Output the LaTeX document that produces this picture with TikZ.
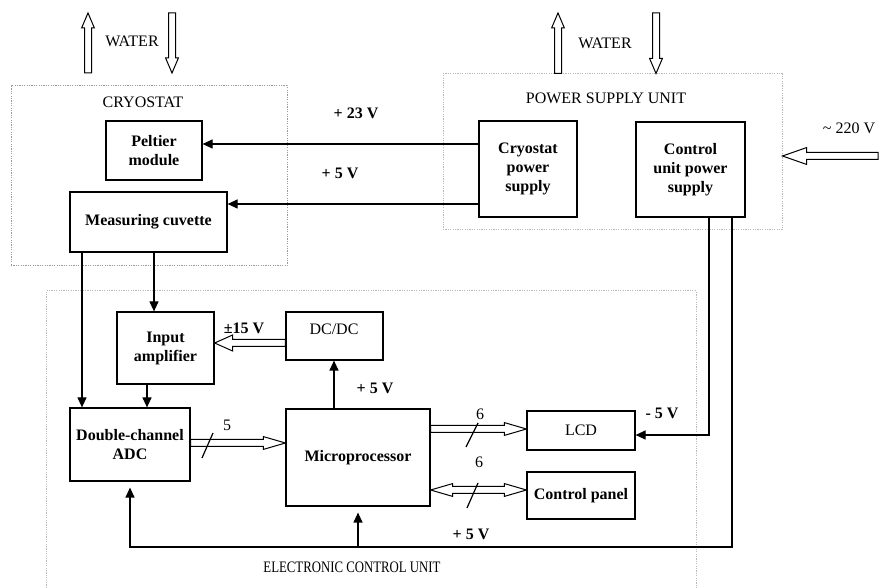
\documentclass[tikz,border=0pt]{standalone}
\usepackage{fontspec}
\setmainfont{Liberation Serif}
\usetikzlibrary{calc,arrows.meta}

\tikzset{
  box/.style={draw, line width=0.6pt, inner sep=0pt, align=center,
    font=\fontsize{8}{9.5}\selectfont\bfseries},
  lbl/.style={font=\fontsize{8}{9.5}\selectfont, inner sep=0pt},
  blbl/.style={font=\fontsize{8}{9.5}\selectfont\bfseries, inner sep=0pt},
  wire/.style={line width=0.6pt},
  arr/.style={wire, -{Triangle[length=5pt,width=4.5pt]}},
  hollowst/.style={line width=0.5pt, fill=white, line join=miter},
  dotbox/.style={draw=gray!80, line width=0.5pt, dash pattern=on 0.6pt off 0.6pt, inner sep=0pt},
  dotboxlight/.style={draw=gray!55, line width=0.5pt, dash pattern=on 0.6pt off 0.6pt, inner sep=0pt},
}

% hollow single arrow: #1 from, #2 to, #3 head length, #4 head half width
\newcommand\hollowarrow[4]{%
  \coordinate (hq) at ($(#2)!#3!(#1)$);
  \draw[hollowst] ($(#1)!1.75pt!90:(#2)$) -- ($(hq)!1.75pt!90:(#2)$) -- ($(hq)!#4!90:(#2)$)
    -- (#2) -- ($(hq)!#4!-90:(#2)$) -- ($(hq)!1.75pt!-90:(#2)$) -- ($(#1)!1.75pt!-90:(#2)$) -- cycle;}
% hollow double arrow
\newcommand\hollowdouble[4]{%
  \coordinate (hq) at ($(#2)!#3!(#1)$);
  \coordinate (hp) at ($(#1)!#3!(#2)$);
  \draw[hollowst] (#1) -- ($(hp)!#4!90:(#2)$) -- ($(hp)!1.75pt!90:(#2)$) -- ($(hq)!1.75pt!90:(#2)$)
    -- ($(hq)!#4!90:(#2)$) -- (#2) -- ($(hq)!#4!-90:(#2)$) -- ($(hq)!1.75pt!-90:(#2)$)
    -- ($(hp)!1.75pt!-90:(#2)$) -- ($(hp)!#4!-90:(#2)$) -- cycle;}

\begin{document}
\begin{tikzpicture}[x=0.5pt,y=-0.5pt]
\useasboundingbox (0,0) rectangle (880,588);

% enclosures
\node[dotbox, minimum width=138pt, minimum height=90pt] (cryo) at (149,176) {};
\node[dotboxlight, minimum width=169.5pt, minimum height=78pt] (psu) at (612.5,152) {};
\draw[dotboxlight] (46,588) -- (46,291) -- (696,291) -- (696,588);

% blocks
\node[box, minimum width=48pt, minimum height=29.5pt] (pel) at (154,150.5) {Peltier\\module};
\node[box, minimum width=78.5pt, minimum height=30pt] (mc) at (148.5,222) {Measuring cuvette};
\node[box, minimum width=49pt, minimum height=48pt] (cps) at (528,169) {Cryostat\\power\\supply};
\node[box, minimum width=54.5pt, minimum height=47.5pt] (cups) at (690.5,169.5) {Control\\unit power\\supply};
\node[box, minimum width=48.5pt, minimum height=36pt] (ia) at (165.5,348) {Input\\amplifier};
\node[box, minimum width=60pt, minimum height=36.5pt] (adc) at (130,444.5) {Double-channel\\ADC};
\node[box, minimum width=48.5pt, minimum height=24pt] (dc) at (334.5,336) {};
\node[lbl] (dclbl) at (334,329) {DC/DC};
\node[box, minimum width=72pt, minimum height=48.5pt] (mp) at (358,457.5) {Microprocessor};
\node[box, minimum width=54pt, minimum height=19.5pt, font=\fontsize{8}{9.5}\selectfont] (lcd) at (581,430.5) {LCD};
\node[box, minimum width=54pt, minimum height=23.5pt] (cp) at (581,495.5) {Control panel};

% labels
\node[lbl] (wat1) at (132,41) {WATER};
\node[lbl] (wat2) at (605,43) {WATER};
\node[lbl] (cryolbl) at (143,102) {CRYOSTAT};
\node[lbl] (psulbl) at (606,98) {POWER SUPPLY UNIT};
\node[blbl] (v23) at (356,113) {+ 23 V};
\node[blbl] (v5a) at (340,173) {+ 5 V};
\node[lbl] (v220) at (849,128) {\textasciitilde{} 220 V};
\node[blbl] (v15) at (244,328) {±15 V};
\node[blbl] (v5b) at (375,388) {+ 5 V};
\node[lbl] (n5) at (227,425) {5};
\node[lbl] (n6a) at (480,414) {6};
\node[lbl] (n6b) at (479,462) {6};
\node[blbl] (vm5) at (662,413) {- 5 V};
\node[blbl] (v5c) at (471,534) {+ 5 V};
\node[lbl] (eculbl) at (352,567) {\scalebox{0.8}[1]{ELECTRONIC CONTROL UNIT}};

% helper coordinates
\coordinate (r144) at (0,144);
\coordinate (r204) at (0,204);
\coordinate (r343) at (0,343);
\coordinate (r443) at (0,443);
\coordinate (r429) at (0,429);
\coordinate (r490) at (0,490);
\coordinate (r435) at (0,435);
\coordinate (r547) at (0,547);
\coordinate (r156) at (0,156);
\coordinate (c82) at (82,0);
\coordinate (c154) at (154,0);
\coordinate (c147) at (147,0);
\coordinate (c334) at (334,0);
\coordinate (c709) at (709,0);
\coordinate (c732) at (732,0);
\coordinate (c558) at (558,0);
\coordinate (c656) at (656,0);

% black arrows
\draw[arr] (cps.west |- r144) -- (pel.east |- r144);
\draw[arr] (cps.west |- r204) -- (mc.east |- r204);
\draw[arr] (mc.south -| c82) -- (adc.north -| c82);
\draw[arr] (mc.south -| c154) -- (ia.north -| c154);
\draw[arr] (ia.south -| c147) -- (adc.north -| c147);
\draw[arr] (mp.north -| c334) -- (dc.south -| c334);
\draw[arr] (cups.south -| c709) |- (lcd.east |- r435);
\draw[arr, shorten >=3pt] (cups.south -| c732) |- (adc.south |- r547) -- (adc.south);
\draw[arr, shorten >=3pt] (mp.south |- r547) -- (mp.south);

% water and mains hollow arrows
\coordinate (wla) at (88,73);  \coordinate (wlb) at (88,13);
\coordinate (wra) at (172,13); \coordinate (wrb) at (172,73);
\coordinate (w2a) at (psu.north -| c558); \coordinate (w2b) at (558,13);
\coordinate (w3a) at (656,13); \coordinate (w3b) at (psu.north -| c656);
\coordinate (mainsa) at (878,156); \coordinate (mainsb) at (psu.east |- r156);
\hollowarrow{wla}{wlb}{7.5pt}{3.2pt}
\hollowarrow{wra}{wrb}{7.5pt}{3.2pt}
\hollowarrow{w2a}{w2b}{7.5pt}{3.2pt}
\hollowarrow{w3a}{w3b}{7.5pt}{3.2pt}
\hollowarrow{mainsa}{mainsb}{12pt}{4.2pt}

% internal hollow arrows
\coordinate (p15a) at (dc.west |- r343); \coordinate (p15b) at (ia.east |- r343);
\hollowarrow{p15a}{p15b}{9pt}{4pt}
\coordinate (busa) at (adc.east |- r443); \coordinate (busb) at (mp.west |- r443);
\hollowarrow{busa}{busb}{11pt}{3.2pt}
\coordinate (lcda) at (mp.east |- r429); \coordinate (lcdb) at (lcd.west |- r429);
\hollowarrow{lcda}{lcdb}{11pt}{3.2pt}
\coordinate (cpa) at (mp.east |- r490); \coordinate (cpb) at (cp.west |- r490);
\hollowdouble{cpa}{cpb}{11pt}{3.2pt}

% bus slashes
\draw[wire] (202,458) -- (213,433);
\draw[wire] (466,447) -- (478,423);
\draw[wire] (467,508) -- (478,483);
\end{tikzpicture}
\end{document}
